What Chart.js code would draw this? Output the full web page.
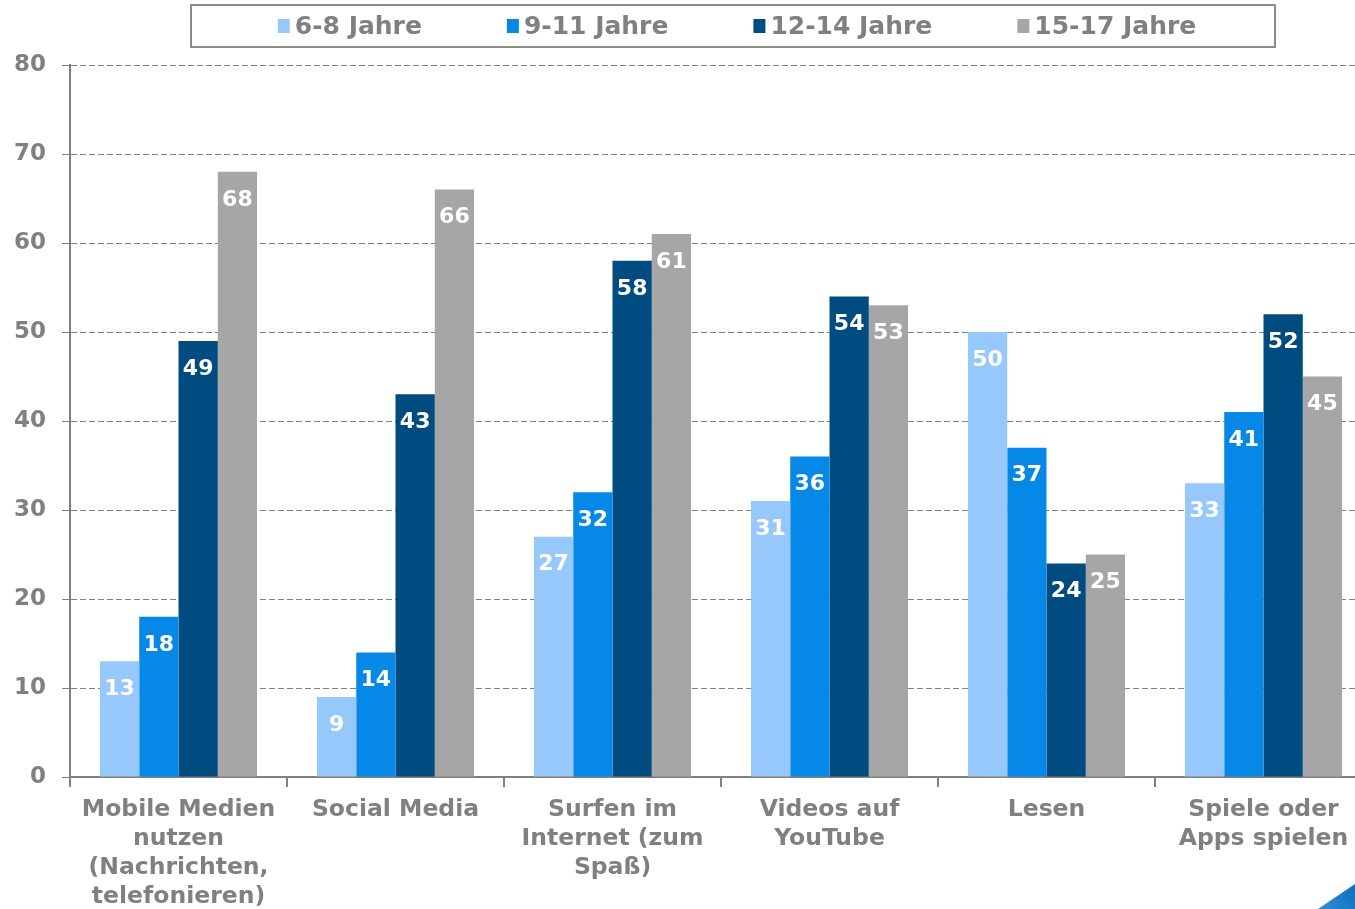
<!DOCTYPE html>
<html>
<head>
<meta charset="utf-8">
<script src="https://cdn.jsdelivr.net/npm/chart.js@4/dist/chart.umd.min.js"></script>
<style>
  html, body { margin: 0; padding: 0; background: #fff; overflow: hidden; }
  #wrap { width: 1355px; height: 909px; overflow: hidden; position: relative; }
  canvas { display: block; }
</style>
</head>
<body>
<div id="wrap"><canvas id="chart" width="1380" height="909"></canvas></div>
<script>
// data
const categories = [
    ['Mobile Medien', 'nutzen', '(Nachrichten,', 'telefonieren)'],
    ['Social Media'],
    ['Surfen im', 'Internet (zum', 'Spaß)'],
    ['Videos auf', 'YouTube'],
    ['Lesen'],
    ['Spiele oder', 'Apps spielen']
];
const seriesNames = ['6-8 Jahre', '9-11 Jahre', '12-14 Jahre', '15-17 Jahre'];
const age6to8 = [13, 9, 27, 31, 50, 33];
const age9to11 = [18, 14, 32, 36, 37, 41];
const age12to14 = [49, 43, 58, 54, 24, 52];
const age15to17 = [68, 66, 61, 53, 25, 45];
const yMin = 0;
const yMax = 80;
const yStep = 10;

const seriesColors = ['#96C8FB', '#0689E6', '#004B7F', '#A6A6A6'];
const greyText = '#808080';
const fontFamily = '"DejaVu Sans", Verdana, sans-serif';
const labelFont = 'bold 22px ' + fontFamily;

// white value labels inside the top of each bar
const barLabels = {
    id: 'barLabels',
    afterDatasetsDraw(chart) {
        const ctx = chart.ctx;
        ctx.save();
        ctx.font = labelFont;
        ctx.fillStyle = '#fff';
        ctx.textAlign = 'center';
        ctx.textBaseline = 'middle';
        chart.data.datasets.forEach((ds, i) => {
            chart.getDatasetMeta(i).data.forEach((bar, j) => {
                ctx.fillText(String(ds.data[j]), bar.x, bar.y + 28);
            });
        });
        ctx.restore();
    }
};

// boxed legend at the top, like the original slide
const boxLegend = {
    id: 'boxLegend',
    afterDraw(chart) {
        const ctx = chart.ctx;
        ctx.save();
        ctx.strokeStyle = '#8c8c8c';
        ctx.lineWidth = 2;
        ctx.strokeRect(191, 5, 1084, 42);

        ctx.font = 'bold 25px ' + fontFamily;
        ctx.textBaseline = 'middle';
        const markerW = 12, markerGap = 5, itemGap = 85;
        const widths = chart.data.datasets.map(ds => markerW + markerGap + ctx.measureText(ds.label).width);
        const total = widths.reduce((a, b) => a + b, 0) + itemGap * (widths.length - 1);
        let x = 737 - total / 2;
        chart.data.datasets.forEach((ds, i) => {
            ctx.fillStyle = ds.backgroundColor;
            ctx.fillRect(x, 19, markerW, 14);
            ctx.fillStyle = greyText;
            ctx.fillText(ds.label, x + markerW + markerGap, 27);
            x += widths[i] + itemGap;
        });

        // little blue slide corner at bottom right
        const g = ctx.createLinearGradient(1318, 909, 1355, 884);
        g.addColorStop(0, '#2f8fd8');
        g.addColorStop(1, '#0a6fc0');
        ctx.fillStyle = g;
        ctx.beginPath();
        ctx.moveTo(1318, 909);
        ctx.lineTo(1355, 884);
        ctx.lineTo(1355, 909);
        ctx.closePath();
        ctx.fill();
        ctx.restore();
    }
};

const datasets = [age6to8, age9to11, age12to14, age15to17].map((values, i) => ({
    label: seriesNames[i],
    data: values,
    backgroundColor: seriesColors[i],
    borderWidth: 0,
    categoryPercentage: 0.724,
    barPercentage: 1.0
}));

new Chart(document.getElementById('chart'), {
    type: 'bar',
    data: { labels: categories, datasets: datasets },
    options: {
        responsive: false,
        animation: false,
        layout: { padding: { top: 65, right: 8, left: 0, bottom: 0 } },
        plugins: {
            legend: { display: false },
            tooltip: { enabled: false }
        },
        scales: {
            x: {
                offset: true,
                grid: {
                    display: true,
                    drawOnChartArea: false,
                    drawTicks: true,
                    tickLength: 10,
                    tickColor: greyText,
                    lineWidth: 2,
                    color: greyText
                },
                border: { display: true, color: greyText, width: 2 },
                ticks: {
                    color: greyText,
                    font: { family: fontFamily, size: 23.5, weight: 'bold', lineHeight: 1.234 },
                    padding: 8,
                    maxRotation: 0,
                    autoSkip: false
                },
                afterFit(scale) { scale.height = 132; }
            },
            y: {
                min: yMin,
                max: yMax,
                ticks: {
                    stepSize: yStep,
                    color: greyText,
                    font: { family: fontFamily, size: 23, weight: 'bold' },
                    padding: 16
                },
                grid: {
                    color: greyText,
                    lineWidth: 1,
                    tickLength: 8,
                    tickColor: greyText
                },
                border: { display: true, color: greyText, width: 2, dash: [6, 3] },
                afterFit(scale) { scale.width = 70; }
            }
        }
    },
    plugins: [barLabels, boxLegend]
});
</script>
</body>
</html>
